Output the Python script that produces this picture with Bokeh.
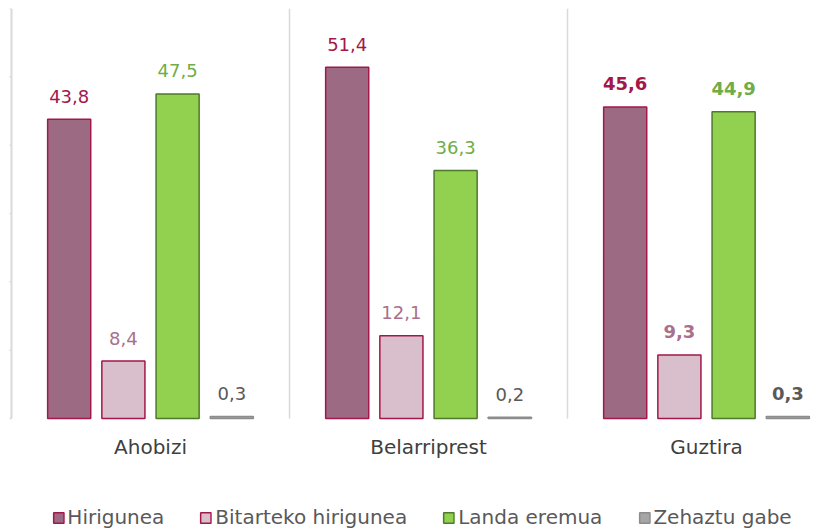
from bokeh.plotting import figure
from bokeh.models import ColumnDataSource, Range1d, Legend, LegendItem
from bokeh.core.properties import value, field
from bokeh.embed import file_html
from bokeh.resources import INLINE

# ---- data ----
groups = ["Ahobizi", "Belarriprest", "Guztira"]
series = ["Hirigunea", "Bitarteko hirigunea", "Landa eremua", "Zehaztu gabe"]
hirigunea = [43.8, 51.4, 45.6]
bitarteko = [8.4, 12.1, 9.3]
landa = [47.5, 36.3, 44.9]
zehaztu = [0.3, 0.2, 0.3]
y_ticks = [0, 10, 20, 30, 40, 50, 60]
bold_group = "Guztira"

# ---- styles ----
fills = ["#9C6A83", "#D9BFCC", "#92D050", "#A6A6A6"]
borders = ["#A3174A", "#A3174A", "#4E7A2B", "#8C8C8C"]
label_colors = ["#A3174A", "#A8708C", "#70AD47", "#595959"]
FONT = "DejaVu Sans"
GRID = "#D9D9D9"

p = figure(width=835, height=532,
           x_range=Range1d(-0.0108, 2.964), y_range=Range1d(-16.68, 60),
           output_backend="svg", toolbar_location=None,
           x_axis_location=None, y_axis_location=None,
           min_border=0, min_border_left=8, min_border_top=8)
p.outline_line_color = None
p.xgrid.visible = False
p.ygrid.visible = False
for g in p.grid:
    g.visible = False

n = len(groups)
ymax = y_ticks[-1]

# left axis line with tick marks
p.segment(x0=[0], y0=[y_ticks[0]], x1=[0], y1=[ymax], line_color=GRID, line_width=2)
p.segment(x0=[-0.007] * len(y_ticks), y0=y_ticks, x1=[0] * len(y_ticks), y1=y_ticks,
          line_color=GRID, line_width=1.5)
# separators between categories
seps = list(range(1, n))
p.segment(x0=seps, y0=[0] * len(seps), x1=seps, y1=[ymax] * len(seps),
          line_color=GRID, line_width=1.5)

all_vals = [hirigunea, bitarteko, landa, zehaztu]
items = []
for k, (name, vals) in enumerate(zip(series, all_vals)):
    xs = [i + 0.5 + (k - 1.5) * 0.195 for i in range(n)]
    src = ColumnDataSource(dict(
        x=xs, top=vals,
        label=[f"{v:.1f}".replace(".", ",") for v in vals],
        style=["bold" if g == bold_group else "normal" for g in groups],
    ))
    r = p.vbar(x="x", top="top", width=0.155, source=src,
               fill_color=fills[k], line_color=borders[k], line_width=1.5)
    p.text(x="x", y="top", text="label", source=src, y_offset=-23,
           text_align="center", text_baseline="alphabetic",
           text_font=value(FONT), text_font_size="18px",
           text_font_style=field("style"), text_color=label_colors[k])
    items.append(LegendItem(label=name, renderers=[r]))

# category labels
p.text(x=[i + 0.5 for i in range(n)], y=[0] * n, text=groups, y_offset=28,
       text_align="center", text_baseline="alphabetic",
       text_font=value(FONT), text_font_size="20px", text_color="#404040")

legend = Legend(items=items, orientation="horizontal", location="bottom_center",
                label_text_font=FONT, label_text_font_size="20px",
                label_text_color="#595959", glyph_width=13, glyph_height=13,
                label_standoff=3, spacing=35, padding=0, margin=3,
                border_line_color=None, background_fill_alpha=0)
p.add_layout(legend)

open("out.html", "w").write(file_html(p, INLINE))
